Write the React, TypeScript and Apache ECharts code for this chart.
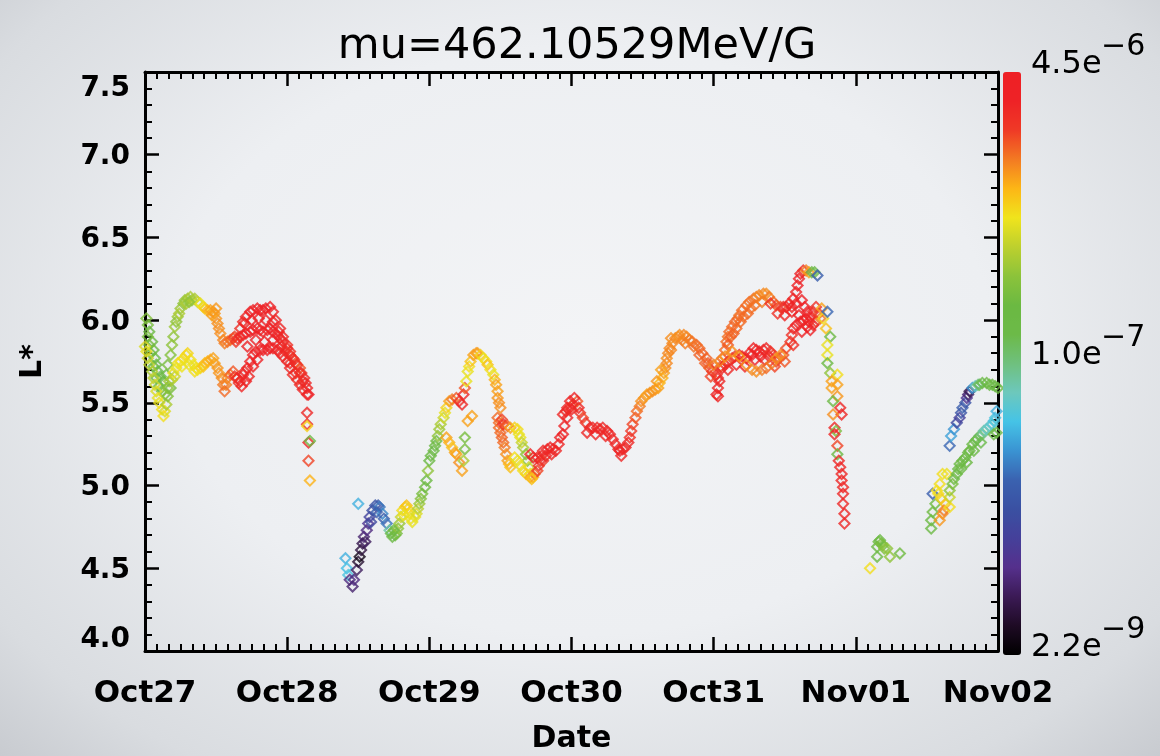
import React, { useEffect, useRef } from 'react';
import * as echarts from 'echarts';

// Each point: [day since Oct27 00:00, L*, log10 flux]
const dateLabels = ['Oct27', 'Oct28', 'Oct29', 'Oct30', 'Oct31', 'Nov01', 'Nov02'];

const oct27UpperArc = [
  [0.01, 6.01, -6.55], [0.02, 5.97, -6.6], [0.03, 5.93, -6.7], [0.05, 5.87, -6.75], [0.06, 5.82, -6.7],
  [0.07, 5.77, -6.8], [0.08, 5.73, -6.75], [0.09, 5.69, -6.8], [0.11, 5.66, -6.85], [0.13, 5.63, -6.8],
  [0.15, 5.67, -6.7], [0.16, 5.73, -6.6], [0.18, 5.79, -6.55], [0.19, 5.85, -6.5], [0.2, 5.9, -6.5],
  [0.21, 5.96, -6.45], [0.23, 6.02, -6.45], [0.25, 6.07, -6.45], [0.27, 6.1, -6.5], [0.28, 6.12, -6.45],
  [0.3, 6.13, -6.45], [0.32, 6.14, -6.4], [0.33, 6.12, -6.45], [0.35, 6.13, -6.4], [0.37, 6.11, -6.3],
  [0.39, 6.1, -6.2], [0.41, 6.08, -6.15], [0.42, 6.07, -6.1], [0.44, 6.06, -6.0], [0.46, 6.06, -5.95],
  [0.48, 6.05, -5.95], [0.49, 6.04, -5.92], [0.5, 6.01, -5.92], [0.51, 5.98, -5.9], [0.52, 5.95, -5.9],
  [0.53, 5.92, -5.9], [0.55, 5.88, -5.88], [0.56, 5.86, -5.85], [0.58, 5.87, -5.82], [0.6, 5.88, -5.8],
  [0.62, 5.89, -5.75], [0.63, 5.9, -5.7], [0.47, 6.03, -5.95], [0.5, 6.07, -5.93], [0.29, 6.1, -6.4],
  [0.31, 6.11, -6.5], [0.22, 5.99, -6.5], [0.24, 6.04, -6.4],
];

const oct27MidArc = [
  [0.02, 5.9, -6.6], [0.03, 5.85, -6.62], [0.04, 5.8, -6.65], [0.06, 5.72, -6.7], [0.08, 5.65, -6.75],
  [0.1, 5.6, -6.8], [0.12, 5.57, -6.75], [0.14, 5.55, -6.6], [0.16, 5.59, -6.5], [0.17, 5.63, -6.45],
];

const oct27LowerArc = [
  [0.0, 5.84, -6.25], [0.01, 5.81, -6.2], [0.02, 5.77, -6.3], [0.03, 5.73, -6.35], [0.05, 5.69, -6.4],
  [0.06, 5.65, -6.35], [0.07, 5.61, -6.3], [0.08, 5.57, -6.25], [0.09, 5.53, -6.2], [0.1, 5.5, -6.2],
  [0.12, 5.46, -6.15], [0.13, 5.42, -6.15], [0.14, 5.45, -6.25], [0.15, 5.49, -6.4], [0.16, 5.54, -6.55],
  [0.18, 5.59, -6.6], [0.19, 5.64, -6.4], [0.2, 5.68, -6.2], [0.22, 5.71, -6.2], [0.23, 5.74, -6.18],
  [0.25, 5.75, -6.15], [0.27, 5.77, -6.15], [0.29, 5.79, -6.15], [0.3, 5.8, -6.12], [0.32, 5.76, -6.15],
  [0.34, 5.73, -6.18], [0.36, 5.71, -6.15], [0.37, 5.7, -6.18], [0.39, 5.71, -6.12], [0.41, 5.72, -6.05],
  [0.42, 5.74, -6.05], [0.44, 5.75, -6.0], [0.46, 5.76, -5.98], [0.48, 5.77, -5.95], [0.49, 5.74, -5.95],
  [0.51, 5.71, -5.92], [0.52, 5.68, -5.92], [0.54, 5.65, -5.9], [0.55, 5.61, -5.85], [0.56, 5.57, -5.8],
  [0.57, 5.61, -5.85], [0.58, 5.65, -5.88], [0.6, 5.67, -5.8], [0.62, 5.69, -5.75], [0.63, 5.66, -5.6],
  [0.65, 5.65, -5.55], [0.67, 5.63, -5.55], [0.69, 5.67, -5.55], [0.66, 5.62, -5.6], [0.68, 5.6, -5.55],
  [0.71, 5.63, -5.52], [0.26, 5.72, -6.18], [0.31, 5.73, -6.2], [0.35, 5.69, -6.15], [0.21, 5.66, -6.3],
];

const oct28UpperRed = [
  [0.67, 5.95, -5.6], [0.69, 5.99, -5.55], [0.71, 6.02, -5.55], [0.74, 6.05, -5.5], [0.76, 6.06, -5.5],
  [0.79, 6.07, -5.5], [0.81, 6.06, -5.5], [0.83, 6.06, -5.52], [0.85, 6.07, -5.5], [0.88, 6.08, -5.5],
  [0.9, 6.05, -5.52], [0.92, 6.0, -5.55], [0.95, 5.95, -5.55], [0.97, 5.9, -5.55], [1.0, 5.85, -5.6],
  [1.02, 5.81, -5.6], [1.04, 5.77, -5.62], [1.06, 5.74, -5.7], [1.09, 5.71, -5.75], [1.1, 5.68, -5.6],
  [1.12, 5.65, -5.55], [1.13, 5.62, -5.55], [1.14, 5.59, -5.55], [1.15, 5.55, -5.5],
  [0.7, 5.98, -5.55], [0.75, 6.0, -5.5], [0.8, 6.01, -5.5], [0.85, 6.0, -5.5], [0.9, 5.99, -5.52],
  [0.94, 5.93, -5.55], [0.99, 5.81, -5.6],
];

const oct28MidRed = [
  [0.64, 5.87, -5.65], [0.65, 5.89, -5.6], [0.67, 5.9, -5.55], [0.69, 5.91, -5.55], [0.71, 5.92, -5.52],
  [0.74, 5.93, -5.5], [0.76, 5.94, -5.5], [0.79, 5.95, -5.5], [0.81, 5.94, -5.52], [0.83, 5.93, -5.5],
  [0.86, 5.94, -5.5], [0.88, 5.95, -5.5], [0.9, 5.93, -5.52], [0.93, 5.91, -5.55], [0.95, 5.89, -5.55],
  [0.97, 5.87, -5.55], [1.0, 5.83, -5.58], [1.02, 5.79, -5.6], [1.05, 5.76, -5.6], [1.07, 5.73, -5.62],
  [1.09, 5.68, -5.6], [1.11, 5.63, -5.55],
  [0.72, 5.84, -5.5], [0.78, 5.88, -5.5], [0.84, 5.87, -5.5], [0.9, 5.88, -5.5], [0.96, 5.84, -5.55],
  [1.02, 5.74, -5.58], [1.06, 5.68, -5.6],
];

const oct28LowerRed = [
  [0.7, 5.69, -5.55], [0.72, 5.71, -5.55], [0.74, 5.75, -5.52], [0.76, 5.79, -5.5], [0.78, 5.81, -5.5],
  [0.81, 5.82, -5.5], [0.83, 5.82, -5.5], [0.86, 5.82, -5.5], [0.88, 5.83, -5.5], [0.9, 5.83, -5.5],
  [0.93, 5.82, -5.52], [0.95, 5.8, -5.55], [0.97, 5.78, -5.55], [1.0, 5.75, -5.55], [1.02, 5.71, -5.55],
  [1.04, 5.67, -5.58], [1.07, 5.64, -5.6], [1.09, 5.61, -5.58], [1.11, 5.58, -5.55], [1.14, 5.55, -5.52],
  [0.73, 5.66, -5.55], [0.76, 5.72, -5.52], [0.79, 5.76, -5.5],
];

const oct28Tail = [
  [1.14, 5.44, -5.55], [1.14, 5.37, -5.55], [1.14, 5.36, -6.1], [1.15, 5.26, -5.55], [1.16, 5.27, -6.7],
  [1.15, 5.15, -5.7], [1.16, 5.03, -6.0],
];

const oct29Rise = [
  [1.41, 4.56, -7.4], [1.5, 4.89, -7.4], [1.42, 4.5, -7.35], [1.43, 4.46, -7.3], [1.44, 4.43, -8.2],
  [1.46, 4.39, -8.25], [1.47, 4.43, -8.2], [1.49, 4.49, -8.3], [1.5, 4.54, -8.45], [1.51, 4.57, -8.55],
  [1.52, 4.61, -8.4], [1.53, 4.65, -8.35], [1.54, 4.69, -8.25], [1.56, 4.73, -8.2], [1.57, 4.77, -8.1],
  [1.58, 4.81, -7.95], [1.6, 4.85, -7.85], [1.62, 4.88, -7.8], [1.64, 4.88, -7.75], [1.65, 4.87, -7.6],
  [1.67, 4.83, -7.55], [1.68, 4.8, -7.7], [1.7, 4.77, -7.6], [1.72, 4.73, -7.1], [1.73, 4.71, -6.8],
  [1.74, 4.69, -6.75], [1.76, 4.7, -6.7], [1.77, 4.71, -6.6], [1.78, 4.74, -6.5], [1.79, 4.77, -6.45],
  [1.8, 4.81, -6.3], [1.81, 4.85, -6.15], [1.83, 4.87, -6.1], [1.84, 4.88, -6.05], [1.85, 4.86, -6.1],
  [1.86, 4.83, -6.15], [1.87, 4.8, -6.2], [1.88, 4.78, -6.2], [1.9, 4.81, -6.2], [1.91, 4.83, -6.25],
  [1.92, 4.86, -6.35], [1.93, 4.89, -6.45], [1.94, 4.92, -6.55], [1.95, 4.95, -6.6], [1.97, 4.99, -6.65],
  [1.98, 5.03, -6.7], [1.99, 5.09, -6.5], [2.0, 5.15, -6.7], [2.01, 5.18, -6.7], [2.03, 5.21, -6.75],
  [2.04, 5.24, -6.7], [2.05, 5.27, -6.65], [2.06, 5.3, -6.5], [2.07, 5.34, -6.45], [2.08, 5.37, -6.4],
  [2.1, 5.41, -6.3], [2.11, 5.44, -6.2], [2.12, 5.47, -6.1], [2.14, 5.51, -5.95], [2.16, 5.52, -5.85],
  [2.19, 5.53, -5.75], [2.21, 5.51, -5.6], [2.23, 5.49, -5.55], [2.24, 5.55, -5.55], [2.25, 5.59, -5.75],
  [1.55, 4.66, -8.3], [1.59, 4.78, -7.9], [1.63, 4.84, -7.7], [1.75, 4.73, -6.65], [1.82, 4.82, -6.2],
];

const oct29Branch = [
  [2.12, 5.29, -5.95], [2.14, 5.26, -6.0], [2.16, 5.23, -6.05], [2.18, 5.2, -5.95], [2.19, 5.19, -5.95],
  [2.21, 5.14, -5.9], [2.23, 5.09, -5.95], [2.24, 5.15, -6.4], [2.25, 5.22, -6.6], [2.25, 5.29, -6.6],
  [2.27, 5.39, -5.95], [2.3, 5.42, -5.95],
];

const oct29Peak = [
  [2.26, 5.63, -6.2], [2.27, 5.69, -6.2], [2.28, 5.72, -6.15], [2.29, 5.75, -6.05], [2.31, 5.79, -5.95],
  [2.33, 5.8, -5.92], [2.34, 5.8, -5.95], [2.36, 5.79, -6.1], [2.38, 5.77, -6.2], [2.4, 5.75, -6.15],
  [2.41, 5.73, -6.05], [2.43, 5.7, -6.15], [2.45, 5.67, -6.2], [2.46, 5.64, -6.0], [2.47, 5.61, -5.95],
  [2.48, 5.57, -5.95], [2.48, 5.53, -5.92], [2.49, 5.5, -5.9], [2.5, 5.47, -5.9], [2.48, 5.41, -5.8],
  [2.49, 5.38, -5.8], [2.49, 5.35, -5.8], [2.5, 5.32, -5.8], [2.51, 5.29, -5.78], [2.52, 5.26, -5.8],
  [2.53, 5.23, -5.85], [2.54, 5.19, -5.9], [2.55, 5.15, -5.95], [2.56, 5.13, -6.0], [2.57, 5.11, -6.05],
];

const oct29Descent = [
  [2.51, 5.4, -5.7], [2.52, 5.37, -5.6], [2.55, 5.36, -5.75], [2.57, 5.35, -5.95], [2.6, 5.35, -6.1],
  [2.62, 5.34, -6.15], [2.63, 5.31, -6.2], [2.64, 5.29, -6.2], [2.65, 5.26, -6.3], [2.66, 5.23, -6.4],
  [2.68, 5.19, -6.5], [2.69, 5.15, -6.55], [2.7, 5.11, -6.3], [2.71, 5.07, -6.15], [2.73, 5.05, -6.0],
  [2.74, 5.07, -5.8], [2.76, 5.09, -5.7], [2.77, 5.12, -5.6], [2.78, 5.15, -5.55], [2.79, 5.18, -5.55],
  [2.8, 5.21, -5.55], [2.83, 5.22, -5.55], [2.85, 5.23, -5.52], [2.87, 5.22, -5.55], [2.89, 5.21, -5.55],
  [2.91, 5.25, -5.55], [2.94, 5.31, -5.52], [2.95, 5.36, -5.5], [2.97, 5.41, -5.52], [2.99, 5.47, -5.6],
  [3.01, 5.49, -5.65], [3.04, 5.51, -5.75], [2.6, 5.17, -6.15], [2.62, 5.15, -6.2], [2.64, 5.12, -6.2],
  [2.66, 5.09, -6.15], [2.68, 5.07, -6.1], [2.71, 5.05, -5.95], [2.72, 5.04, -6.05], [2.71, 5.19, -5.55],
  [2.73, 5.17, -5.55], [2.76, 5.17, -5.55], [2.8, 5.15, -5.65], [2.82, 5.18, -5.55], [2.86, 5.19, -5.55],
  [2.92, 5.29, -5.52], [2.96, 5.45, -5.55],
];

const oct30Trough = [
  [2.94, 5.43, -5.55], [2.97, 5.47, -5.55], [2.99, 5.51, -5.55], [3.02, 5.53, -5.52], [3.05, 5.47, -5.55],
  [3.06, 5.44, -5.6], [3.08, 5.41, -5.7], [3.1, 5.38, -5.6], [3.13, 5.35, -5.55], [3.15, 5.35, -5.55],
  [3.18, 5.35, -5.55], [3.2, 5.34, -5.55], [3.22, 5.35, -5.55], [3.25, 5.33, -5.55], [3.27, 5.31, -5.55],
  [3.29, 5.28, -5.55], [3.31, 5.25, -5.55], [3.33, 5.22, -5.55], [3.34, 5.21, -5.52], [3.36, 5.22, -5.55],
  [3.38, 5.23, -5.55], [3.4, 5.26, -5.55], [3.41, 5.29, -5.6], [3.42, 5.33, -5.65],
  [3.0, 5.46, -5.55], [3.11, 5.32, -5.55], [3.17, 5.31, -5.55], [3.24, 5.3, -5.55], [3.35, 5.18, -5.55],
];

const oct30Rise = [
  [3.43, 5.37, -5.7], [3.45, 5.41, -5.75], [3.46, 5.45, -5.8], [3.48, 5.48, -5.85], [3.49, 5.51, -5.9],
  [3.51, 5.53, -5.92], [3.53, 5.55, -5.95], [3.55, 5.56, -5.92], [3.57, 5.57, -5.9], [3.59, 5.58, -5.92],
  [3.61, 5.59, -5.95], [3.62, 5.62, -6.0], [3.64, 5.65, -6.0], [3.65, 5.68, -5.95], [3.66, 5.71, -5.9],
  [3.67, 5.74, -5.88], [3.67, 5.77, -5.9], [3.68, 5.8, -5.88], [3.69, 5.83, -5.88], [3.71, 5.86, -5.88],
  [3.73, 5.89, -5.88], [3.75, 5.9, -5.9], [3.76, 5.91, -5.9], [3.79, 5.91, -5.88], [3.81, 5.9, -5.88],
  [3.83, 5.88, -5.85], [3.85, 5.87, -5.82], [3.88, 5.85, -5.8], [3.9, 5.83, -5.8], [3.92, 5.8, -5.78],
  [3.95, 5.77, -5.78], [3.96, 5.74, -5.75], [3.97, 5.71, -5.75], [3.99, 5.69, -5.65], [4.02, 5.67, -5.6],
  [4.03, 5.65, -5.55], [4.04, 5.63, -5.55], [4.03, 5.59, -5.55], [4.02, 5.55, -5.52], [4.03, 5.54, -5.55],
  [3.7, 5.89, -5.9], [3.78, 5.88, -5.88], [3.86, 5.84, -5.82], [3.94, 5.74, -5.78],
  [3.6, 5.63, -5.92], [3.63, 5.7, -5.95], [3.7, 5.82, -5.88], [3.8, 5.86, -5.85], [3.9, 5.79, -5.78],
  [3.98, 5.66, -5.7],
];

const oct31Upper = [
  [4.05, 5.72, -5.75], [4.06, 5.77, -5.78], [4.08, 5.82, -5.8], [4.09, 5.87, -5.8], [4.1, 5.9, -5.82],
  [4.11, 5.93, -5.8], [4.13, 5.96, -5.8], [4.15, 5.99, -5.78], [4.17, 6.01, -5.8], [4.18, 6.03, -5.82],
  [4.2, 6.06, -5.8], [4.23, 6.09, -5.8], [4.25, 6.11, -5.82], [4.28, 6.13, -5.82], [4.3, 6.14, -5.85],
  [4.32, 6.15, -5.88], [4.35, 6.16, -5.88], [4.37, 6.16, -5.9], [4.39, 6.14, -5.85], [4.42, 6.11, -5.8],
  [4.44, 6.09, -5.75], [4.47, 6.08, -5.7], [4.49, 6.08, -5.6], [4.51, 6.08, -5.55], [4.53, 6.1, -5.55],
  [4.56, 6.13, -5.55], [4.58, 6.17, -5.52], [4.59, 6.21, -5.5], [4.6, 6.25, -5.5], [4.61, 6.28, -5.5],
  [4.63, 6.3, -5.6], [4.65, 6.3, -5.85], [4.67, 6.29, -5.95], [4.69, 6.29, -6.7], [4.71, 6.29, -6.8],
  [4.73, 6.27, -7.7], [4.12, 5.9, -5.78], [4.16, 5.95, -5.8], [4.21, 6.02, -5.8], [4.26, 6.07, -5.82],
  [4.1, 5.85, -5.75], [4.14, 5.92, -5.78], [4.19, 5.99, -5.8], [4.24, 6.04, -5.8], [4.29, 6.09, -5.82],
  [4.34, 6.11, -5.85], [4.4, 6.1, -5.6], [4.45, 6.04, -5.6], [4.5, 6.03, -5.55], [4.55, 6.08, -5.55],
];

const oct31Lower = [
  [4.06, 5.71, -5.55], [4.08, 5.73, -5.55], [4.1, 5.75, -5.6], [4.13, 5.77, -5.7], [4.15, 5.78, -5.65],
  [4.18, 5.79, -5.6], [4.2, 5.78, -5.55], [4.23, 5.77, -5.52], [4.25, 5.8, -5.52], [4.28, 5.83, -5.52],
  [4.3, 5.82, -5.52], [4.32, 5.81, -5.52], [4.35, 5.82, -5.52], [4.37, 5.83, -5.55], [4.4, 5.81, -5.6],
  [4.42, 5.79, -5.65], [4.44, 5.75, -5.7], [4.46, 5.77, -5.75], [4.49, 5.79, -5.75], [4.51, 5.83, -5.72],
  [4.54, 5.87, -5.65], [4.55, 5.91, -5.6], [4.56, 5.95, -5.55], [4.58, 5.97, -5.52], [4.61, 5.99, -5.5],
  [4.63, 6.0, -5.5], [4.65, 6.01, -5.5], [4.67, 5.99, -5.52], [4.7, 5.97, -5.55], [4.72, 5.99, -5.6],
  [4.75, 6.01, -5.85], [4.27, 5.79, -5.52], [4.33, 5.78, -5.52], [4.39, 5.78, -5.55],
  [4.1, 5.7, -5.55], [4.16, 5.73, -5.52], [4.22, 5.72, -5.55], [4.29, 5.76, -5.52], [4.36, 5.76, -5.55],
  [4.43, 5.72, -5.7], [4.5, 5.75, -5.75], [4.56, 5.85, -5.6], [4.62, 5.93, -5.5], [4.68, 5.94, -5.5],
];

const oct31Middle = [
  [4.0, 5.73, -5.85], [4.04, 5.75, -5.88], [4.08, 5.78, -5.9], [4.13, 5.81, -5.9], [4.18, 5.78, -5.92],
  [4.23, 5.73, -5.9], [4.27, 5.7, -5.88], [4.3, 5.69, -5.9], [4.34, 5.7, -5.85], [4.37, 5.71, -5.8],
  [4.41, 5.74, -5.85], [4.44, 5.77, -5.88], [4.47, 5.79, -5.9],
];

const nov01Peak = [
  [4.55, 6.05, -5.55], [4.58, 6.1, -5.5], [4.62, 6.12, -5.5], [4.64, 6.08, -5.5], [4.66, 6.05, -5.5],
  [4.68, 6.02, -5.52], [4.7, 6.05, -5.55], [4.72, 6.08, -5.6], [4.74, 6.04, -5.7], [4.76, 6.07, -5.95],
  [4.77, 6.01, -6.15], [4.79, 5.95, -6.05], [4.8, 6.05, -7.65], [4.6, 6.03, -5.5], [4.66, 5.96, -5.5],
];

const nov01Drop = [
  [4.82, 5.9, -6.7], [4.8, 5.85, -6.2], [4.8, 5.79, -6.2], [4.8, 5.74, -6.7], [4.82, 5.68, -6.5],
  [4.87, 5.67, -6.15], [4.83, 5.63, -5.95], [4.87, 5.61, -5.95], [4.83, 5.59, -5.95], [4.87, 5.54, -5.92],
  [4.84, 5.51, -6.7], [4.89, 5.47, -5.55], [4.9, 5.43, -5.55], [4.84, 5.43, -5.9], [4.85, 5.35, -5.55],
  [4.86, 5.33, -6.6], [4.85, 5.31, -5.55], [4.87, 5.24, -5.7], [4.87, 5.19, -6.7], [4.88, 5.15, -5.55],
  [4.89, 5.11, -5.55], [4.9, 5.07, -5.55], [4.9, 5.03, -5.55], [4.91, 4.99, -5.55], [4.91, 4.95, -5.55],
  [4.91, 4.89, -5.55], [4.92, 4.83, -5.55], [4.92, 4.77, -5.55],
];

const nov01Cluster = [
  [5.15, 4.63, -6.7], [5.16, 4.66, -6.65], [5.17, 4.67, -6.7], [5.18, 4.65, -6.6], [5.19, 4.64, -6.6],
  [5.2, 4.62, -6.55], [5.22, 4.62, -6.5], [5.15, 4.57, -6.7], [5.24, 4.57, -6.5], [5.31, 4.59, -6.65],
  [5.1, 4.5, -6.15],
];

const nov02Lower = [
  [5.53, 4.74, -6.7], [5.53, 4.79, -6.7], [5.54, 4.84, -6.65], [5.56, 4.89, -6.65], [5.54, 4.95, -7.7],
  [5.57, 4.97, -6.15], [5.59, 5.01, -6.15], [5.61, 5.07, -6.15], [5.64, 5.07, -6.2], [5.58, 4.95, -6.15],
  [5.6, 4.92, -6.1], [5.63, 4.89, -6.05], [5.61, 4.83, -5.9], [5.59, 4.79, -5.92], [5.62, 4.85, -5.85],
  [5.66, 4.87, -6.15], [5.66, 4.93, -6.3], [5.66, 4.97, -6.5], [5.68, 5.01, -6.6], [5.69, 5.04, -6.65],
  [5.71, 5.07, -6.7], [5.72, 5.1, -6.7], [5.73, 5.13, -6.7], [5.75, 5.15, -6.7], [5.77, 5.17, -6.72],
  [5.79, 5.2, -6.72], [5.8, 5.21, -6.7], [5.82, 5.25, -6.75], [5.84, 5.27, -6.8], [5.85, 5.28, -6.85],
  [5.87, 5.3, -6.9], [5.89, 5.31, -7.0], [5.9, 5.33, -7.1], [5.92, 5.34, -7.2], [5.94, 5.36, -7.2],
  [5.96, 5.37, -7.25], [5.97, 5.39, -7.3], [5.98, 5.41, -7.3], [5.99, 5.45, -7.4], [5.99, 5.32, -6.7],
  [5.97, 5.31, -6.75], [5.74, 5.1, -6.72], [5.78, 5.14, -6.7], [5.83, 5.21, -6.75], [5.88, 5.26, -6.85],
];

const nov02Upper = [
  [5.66, 5.24, -7.65], [5.67, 5.3, -7.45], [5.69, 5.34, -7.5], [5.71, 5.38, -7.9], [5.73, 5.41, -8.0],
  [5.74, 5.44, -7.8], [5.75, 5.47, -7.7], [5.77, 5.5, -7.8], [5.78, 5.53, -8.1], [5.79, 5.55, -8.25],
  [5.8, 5.57, -8.35], [5.82, 5.59, -7.5], [5.84, 5.6, -7.2], [5.86, 5.61, -7.0], [5.87, 5.61, -6.9],
  [5.89, 5.62, -6.8], [5.92, 5.62, -6.75], [5.94, 5.61, -6.75], [5.96, 5.61, -6.72], [5.98, 5.6, -6.75],
  [6.0, 5.59, -6.7],
];

// Colour bar range (flux, linear) and its labelled values
const fluxMin = 2.2e-9;
const fluxMax = 4.5e-6;
const fluxLabels = [
  { mantissa: '4.5e', exponent: '−6', value: 4.5e-6 },
  { mantissa: '1.0e', exponent: '−7', value: 1.0e-7 },
  { mantissa: '2.2e', exponent: '−9', value: 2.2e-9 },
];

const rainbow = [
  '#000000', '#1e0b24', '#3b1a55', '#55308c', '#45409a', '#3a50a2', '#3a62b0', '#3a93d2',
  '#45c3e6', '#6dc8bc', '#6fc07e', '#6cba48', '#6bb942', '#8cc33a', '#bdd02e', '#f0e41c',
  '#fcb616', '#f37a22', '#ef3a26', '#ee2226', '#ee2025',
];

// Outlined diamond: outer square rotated 45°, inner hole wound the other way
const hollowDiamond = 'path://M0,-10L10,0L0,10L-10,0Z M0,-5.6L-5.6,0L0,5.6L5.6,0Z';

const GRID = { left: 145, top: 72, right: 1160 - 998, bottom: 756 - 655 };
const AXIS_FONT = 'DejaVu Sans';

export default function App() {
  const ref = useRef<HTMLDivElement>(null);

  useEffect(() => {
    const chart = echarts.init(ref.current!, null, { renderer: 'svg' });

    const allPoints = [
      ...oct27UpperArc, ...oct27MidArc, ...oct27LowerArc,
      ...oct28UpperRed, ...oct28MidRed, ...oct28LowerRed, ...oct28Tail,
      ...oct29Rise, ...oct29Branch, ...oct29Peak, ...oct29Descent,
      ...oct30Trough, ...oct30Rise,
      ...oct31Upper, ...oct31Lower, ...oct31Middle,
      ...nov01Peak, ...nov01Drop, ...nov01Cluster,
      ...nov02Lower, ...nov02Upper,
    ];

    const logMin = Math.log10(fluxMin);
    const logMax = Math.log10(fluxMax);
    const plotH = 756 - GRID.top - GRID.bottom;

    const tickStyle = { show: true, inside: true, length: 14, lineStyle: { color: '#000', width: 2.5 } };
    const lineStyle = { show: true, onZero: false, lineStyle: { color: '#000', width: 3 } };

    const xBase = {
      type: 'value', min: 0, max: 6, interval: 1,
      axisLine: lineStyle, axisTick: tickStyle,
      minorTick: { show: true, splitNumber: 12, length: 7, lineStyle: { color: '#000', width: 2 } },
      splitLine: { show: false },
    };
    const yBase = {
      type: 'value', min: 4, max: 7.5, interval: 0.5,
      axisLine: lineStyle, axisTick: tickStyle,
      minorTick: { show: true, splitNumber: 5, length: 7, lineStyle: { color: '#000', width: 2 } },
      splitLine: { show: false },
    };

    const labelTexts: any[] = [];
    fluxLabels.forEach((f) => {
      const y = GRID.top + ((logMax - Math.log10(f.value)) / (logMax - logMin)) * plotH;
      labelTexts.push({
        type: 'text', x: 1031, y: y - 10,
        style: { text: f.mantissa, font: `32px "${AXIS_FONT}"`, fill: '#000', verticalAlign: 'middle', align: 'left' },
      });
      labelTexts.push({
        type: 'text', x: 1101, y: y - 28,
        style: { text: f.exponent, font: `30px "${AXIS_FONT}"`, fill: '#000', verticalAlign: 'middle', align: 'left' },
      });
    });

    chart.setOption({
      animation: false,
      backgroundColor: 'transparent',
      title: {
        text: 'mu=462.10529MeV/G',
        left: 572,
        textAlign: 'center',
        top: 16,
        textStyle: { fontFamily: AXIS_FONT, fontSize: 43, fontWeight: 'normal', color: '#000' },
      },
      grid: GRID,
      xAxis: [
        {
          ...xBase, position: 'bottom',
          axisLabel: {
            formatter: (v: number) => dateLabels[Math.round(v)] ?? '',
            margin: 24, fontSize: 31, fontWeight: 'bold', fontFamily: AXIS_FONT, color: '#000',
          },
          name: 'Date', nameLocation: 'middle', nameGap: 70,
          nameTextStyle: { fontSize: 30, fontWeight: 'bold', fontFamily: AXIS_FONT, color: '#000' },
        },
        { ...xBase, position: 'top', axisLabel: { show: false } },
      ],
      yAxis: [
        {
          ...yBase, position: 'left',
          axisLabel: {
            formatter: (v: number) => v.toFixed(1), margin: 15,
            fontSize: 28, fontWeight: 'bold', fontFamily: AXIS_FONT, color: '#000',
            verticalAlignMinLabel: 'bottom', verticalAlignMaxLabel: 'top',
          },
          name: 'L*', nameLocation: 'middle', nameRotate: 90, nameGap: 100,
          nameTextStyle: { fontSize: 30, fontWeight: 'bold', fontFamily: AXIS_FONT, color: '#000' },
        },
        { ...yBase, position: 'right', axisLabel: { show: false } },
      ],
      visualMap: {
        type: 'continuous',
        min: logMin, max: logMax,
        dimension: 2, seriesIndex: 0,
        inRange: { color: rainbow },
        orient: 'vertical',
        left: 1003, top: GRID.top,
        itemWidth: 18, itemHeight: plotH,
        padding: 0, calculable: false, hoverLink: false,
      },
      graphic: labelTexts,
      series: [
        {
          type: 'scatter',
          data: allPoints,
          symbol: hollowDiamond,
          symbolSize: 13,
          xAxisIndex: 0, yAxisIndex: 0,
          clip: true,
          silent: true,
          z: 3,
        },
      ],
    });

    return () => chart.dispose();
  }, []);

  return (
    <div
      ref={ref}
      style={{
        position: 'fixed', left: 0, top: 0, width: 1160, height: 756,
        background: 'radial-gradient(ellipse at 50% 45%, #f3f4f6 0%, #edeff2 50%, #d9dce0 85%, #c8cbd0 100%)',
      }}
    />
  );
}
